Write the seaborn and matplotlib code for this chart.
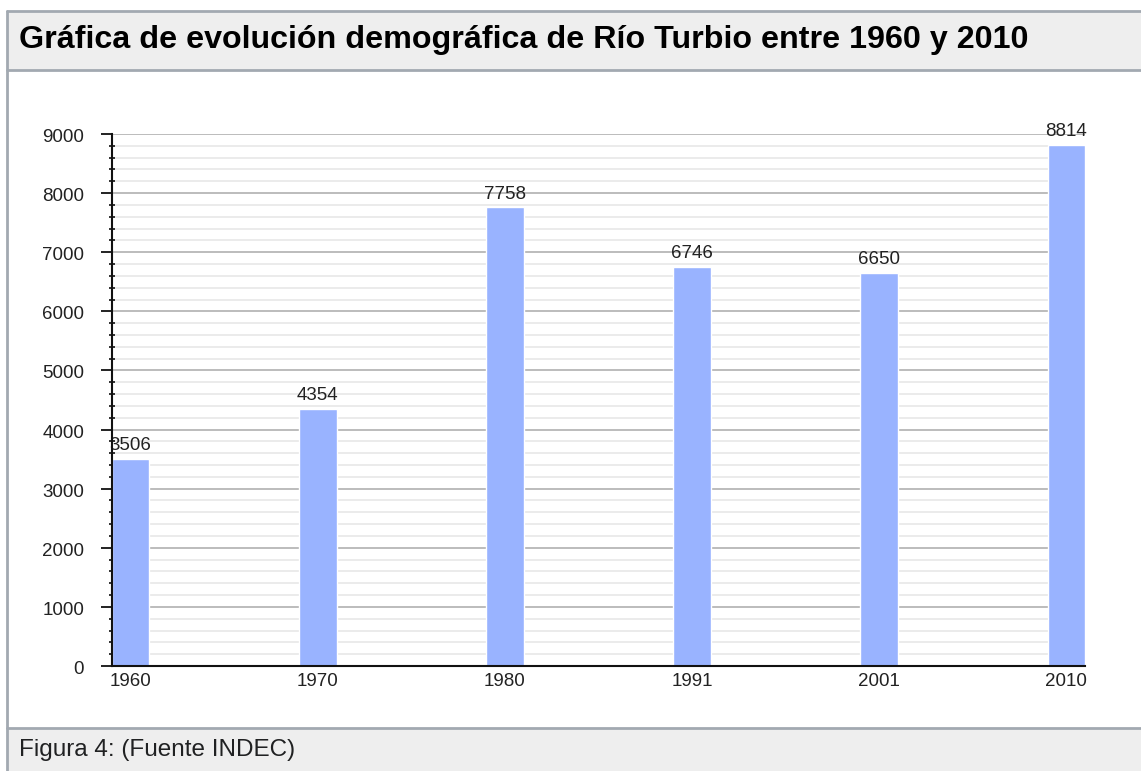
import matplotlib
matplotlib.use("Agg")
import matplotlib.pyplot as plt
from matplotlib.patches import Rectangle
from matplotlib.lines import Line2D
from matplotlib.ticker import MultipleLocator
from matplotlib.transforms import ScaledTranslation
import seaborn as sns
import pandas as pd

years = ["1960", "1970", "1980", "1991", "2001", "2010"]
population = [3506, 4354, 7758, 6746, 6650, 8814]
title = "Gráfica de evolución demográfica de Río Turbio entre 1960 y 2010"
caption = "Figura 4: (Fuente INDEC)"

sns.set_theme(style="white")
plt.rcParams["font.family"] = ["Liberation Sans", "DejaVu Sans"]

W, H = 1141, 771
fig = plt.figure(figsize=(W / 100, H / 100), dpi=100)
fig.patch.set_facecolor("white")

def fx(px):
    return px / W

def fy(py):
    return 1 - py / H

border = "#a2a9b1"
bg = "#eeeeee"
# title bar
fig.patches.append(Rectangle((fx(7), fy(70)), 1, fy(11) - fy(70), transform=fig.transFigure,
                             facecolor=bg, edgecolor="none", zorder=0))
# footer bar
fig.patches.append(Rectangle((fx(7), 0), 1, fy(728), transform=fig.transFigure,
                             facecolor=bg, edgecolor="none", zorder=0))
for yy in (11, 70, 728):
    fig.lines.append(Line2D([fx(7), 1], [fy(yy), fy(yy)], transform=fig.transFigure,
                            color=border, lw=2))
fig.lines.append(Line2D([fx(7), fx(7)], [fy(11), 0], transform=fig.transFigure,
                        color=border, lw=2))

fig.text(fx(19), fy(48), title, fontsize=23.2, fontweight="bold", color="#000000",
         ha="left", va="baseline")
fig.text(fx(19), fy(750), caption, fontsize=17.5, color="#202122", ha="left", va="center")

ax = fig.add_axes([fx(112), fy(666), fx(1085) - fx(112), fy(134) - fy(666)])
df = pd.DataFrame({"year": years, "population": population})
sns.barplot(data=df, x="year", y="population", color="#99b3ff", saturation=1,
            width=0.2, ax=ax, zorder=3)
ax.set_xlim(-0.1, len(years) - 1 + 0.1)
ax.set_ylim(0, 9000)
ax.set_xlabel("")
ax.set_ylabel("")
ax.yaxis.set_major_locator(MultipleLocator(1000))
ax.yaxis.set_minor_locator(MultipleLocator(200))
ax.grid(True, which="major", axis="y", color="#b0b0b0", lw=1.2, zorder=0)
ax.grid(True, which="minor", axis="y", color="#e8e8e8", lw=1.2, zorder=0)
ax.set_axisbelow(True)
for s in ("top", "right"):
    ax.spines[s].set_visible(False)
for s in ("left", "bottom"):
    ax.spines[s].set_color("#111111")
    ax.spines[s].set_linewidth(1.5)
    ax.spines[s].set_zorder(5)
ax.tick_params(axis="y", which="major", direction="out", length=8, width=1.3,
               color="#111111", labelsize=13.5, labelcolor="#222222", pad=12, left=True)
ax.tick_params(axis="y", which="minor", direction="inout", length=5, width=1.2,
               color="#111111", left=True)
ax.tick_params(axis="x", length=0, labelsize=13.5, labelcolor="#222222", pad=5)
offset = ScaledTranslation(0, -1.5 / 100, fig.dpi_scale_trans)
for lbl in ax.get_yticklabels():
    lbl.set_transform(lbl.get_transform() + offset)
ax.bar_label(ax.containers[0], labels=[str(v) for v in population], padding=3.5,
             fontsize=13.5, color="#222222")

fig.savefig("out.png", dpi=100)
